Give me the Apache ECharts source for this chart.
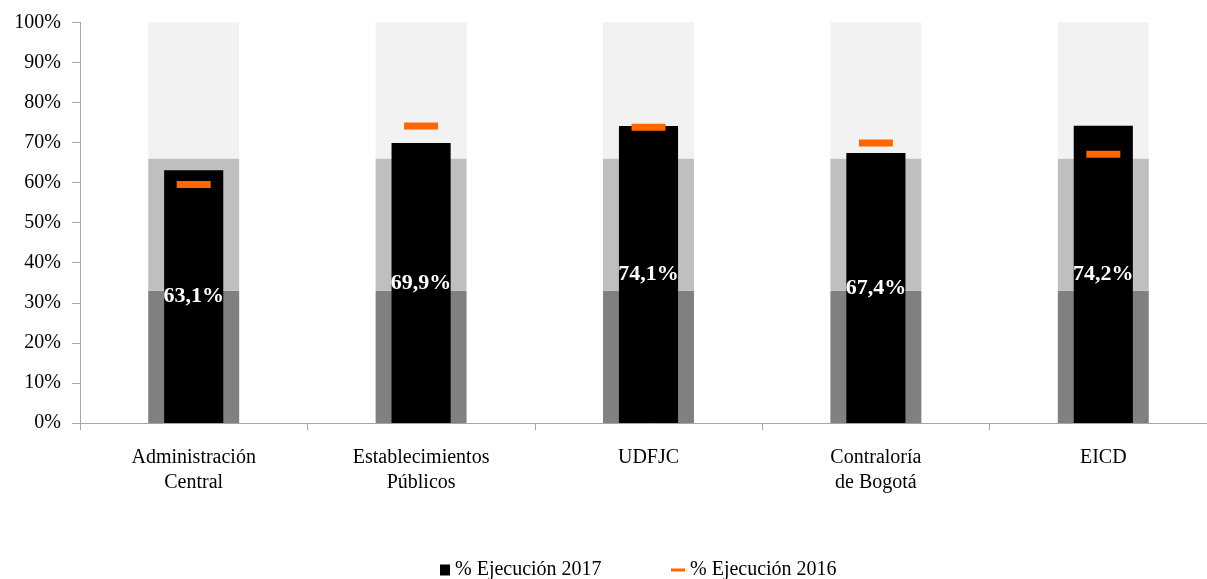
<!DOCTYPE html>
<html>
<head>
<meta charset="utf-8">
<script src="https://cdn.jsdelivr.net/npm/echarts@6/dist/echarts.min.js"></script>
<style>
html,body{margin:0;padding:0;background:#fff;overflow:hidden;width:1207px;height:579px;}
#chart{width:1220px;height:579px;}
</style>
</head>
<body>
<div id="chart"></div>
<script>
const categories = ['Administración\nCentral', 'Establecimientos\nPúblicos', 'UDFJC', 'Contraloría\nde Bogotá', 'EICD'];
const ejecucion2017 = [63.1, 69.9, 74.1, 67.4, 74.2];
const ejecucion2016 = [59.5, 74.1, 73.8, 69.9, 67.1];
const bandLow = [33, 33, 33, 33, 33];
const bandMid = [33, 33, 33, 33, 33];
const bandHigh = [34, 34, 34, 34, 34];
const yTicks = [0, 10, 20, 30, 40, 50, 60, 70, 80, 90, 100];

const FONT = '"Liberation Serif", "Times New Roman", serif';
const chart = echarts.init(document.getElementById('chart'), null, {renderer: 'canvas', width: 1220, height: 579});

const axisGray = '#A6A6A6';
chart.setOption({
  animation: false,
  backgroundColor: '#ffffff',
  textStyle: {fontFamily: FONT},
  grid: {left: 80, width: 1137, top: 22.3, height: 400.7, containLabel: false},
  legend: [
    {
      data: [{name: '% Ejecución 2017', icon: 'rect'}],
      left: 435, top: 555, itemWidth: 10, itemHeight: 11, itemGap: 0,
      textStyle: {fontFamily: FONT, fontSize: 20, color: '#000'}
    },
    {
      data: [{name: '% Ejecución 2016', icon: 'rect'}],
      left: 666, top: 555, itemWidth: 14, itemHeight: 3, itemGap: 0,
      textStyle: {fontFamily: FONT, fontSize: 20, color: '#000'}
    }
  ],
  xAxis: [
    {
      type: 'category', data: categories,
      axisLine: {show: true, lineStyle: {color: axisGray, width: 1}},
      axisTick: {show: true, alignWithLabel: false, length: 7, lineStyle: {color: axisGray}},
      axisLabel: {fontFamily: FONT, fontSize: 20, color: '#000', margin: 22, lineHeight: 25, interval: 0}
    },
    {
      type: 'category', data: categories, show: false
    }
  ],
  yAxis: {
    type: 'value', min: 0, max: 100, interval: 10,
    axisLine: {show: true, lineStyle: {color: axisGray, width: 1}},
    axisTick: {show: true, length: 8, lineStyle: {color: axisGray}},
    splitLine: {show: false},
    axisLabel: {
      fontFamily: FONT, fontSize: 20, color: '#000', margin: 19,
      formatter: v => yTicks.includes(v) ? v + '%' : ''
    }
  },
  series: [
    {type: 'bar', stack: 'band', data: bandLow, barWidth: '40%', xAxisIndex: 0,
     itemStyle: {color: '#808080'}, silent: true, z: 1},
    {type: 'bar', stack: 'band', data: bandMid, barWidth: '40%', xAxisIndex: 0,
     itemStyle: {color: '#BFBFBF'}, silent: true, z: 1},
    {type: 'bar', stack: 'band', data: bandHigh, barWidth: '40%', xAxisIndex: 0,
     itemStyle: {color: '#F2F2F2'}, silent: true, z: 1},
    {
      name: '% Ejecución 2017', type: 'bar', data: ejecucion2017, barWidth: '26%', xAxisIndex: 1,
      itemStyle: {color: '#000000'}, z: 3,
      label: {
        show: true, position: 'inside', color: '#ffffff', fontFamily: FONT,
        fontWeight: 'bold', fontSize: 22,
        formatter: p => p.value.toFixed(1).replace('.', ',') + '%'
      }
    },
    {
      name: '% Ejecución 2016', type: 'scatter', data: ejecucion2016, xAxisIndex: 1,
      symbol: 'rect', symbolSize: [34, 7], itemStyle: {color: '#FF6600', opacity: 1}, z: 5
    }
  ]
});
</script>
</body>
</html>
